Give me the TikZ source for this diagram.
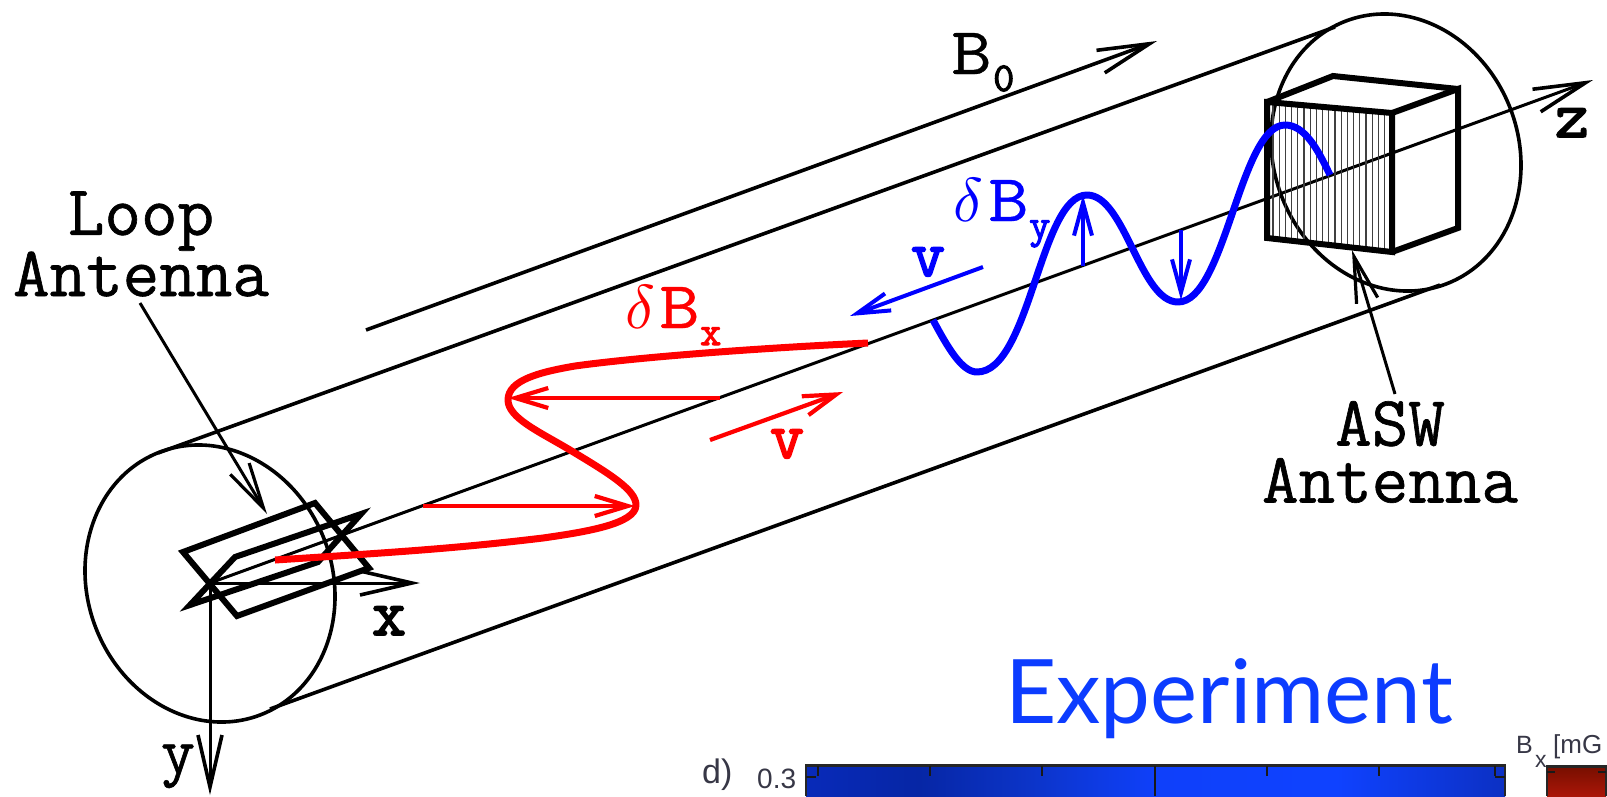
\documentclass[tikz,border=0pt]{standalone}
\usepackage{fontspec}
\usepackage{graphicx}
\setmainfont{Liberation Sans}
\newfontfamily\gillish{Lato}
\newfontfamily\slabl{Latin Modern Mono}[FakeBold=0.5]
\newfontfamily\slabm{Latin Modern Mono}[FakeBold=0.9]
\newfontfamily\slabb{Latin Modern Mono}[FakeBold=2.6]
\usetikzlibrary{arrows.meta}
\definecolor{wavered}{RGB}{255,0,0}
\definecolor{waveblue}{RGB}{0,0,255}
\definecolor{expblue}{RGB}{12,60,255}
\definecolor{pA}{RGB}{8,42,185}
\definecolor{pB}{RGB}{6,38,165}
\definecolor{pC}{RGB}{12,52,200}
\definecolor{pD}{RGB}{15,64,250}
\definecolor{pE}{RGB}{15,66,255}
\definecolor{pF}{RGB}{12,48,195}
\definecolor{barTop}{RGB}{120,15,0}
\definecolor{barBot}{RGB}{170,22,8}
\definecolor{plottext}{RGB}{55,55,70}
\pgfdeclarehorizontalshading{plotblue}{100bp}{color(0bp)=(pA); color(25bp)=(pA); color(33bp)=(pB); color(41bp)=(pC); color(50bp)=(pD); color(63bp)=(pE); color(75bp)=(pF); color(100bp)=(pF)}
\newcommand{\dlt}{\scalebox{6.2}{\fontsize{10}{10}\selectfont$\delta$}}
\newcommand{\wideB}{\scalebox{1.17}[1]{B}}
\tikzset{
  thinline/.style={line width=3.6pt,black},
  axisline/.style={line width=3pt,black},
  thickline/.style={line width=6pt,black,line join=miter},
  barbbig/.style={-{Straight Barb[length=52pt,width=24pt,line width=3.6pt]}},
  barbmid/.style={-{Straight Barb[length=46pt,width=22pt,line width=3.2pt]}},
  barbred/.style={-{Straight Barb[length=33pt,width=20pt,line width=4.2pt]},line width=4.2pt,wavered},
  barbblue/.style={-{Straight Barb[length=33pt,width=18pt,line width=4pt]},line width=4pt,waveblue},
  labeltext/.style={font=\slabm\fontsize{71}{57}\selectfont,inner sep=0pt,align=center},
  bigtext/.style={font=\slabl\fontsize{67}{57}\selectfont,inner sep=0pt,anchor=base west},
  subtext/.style={font=\slabb\fontsize{41}{41}\selectfont,inner sep=0pt,anchor=base west},
  axistext/.style={font=\slabb\fontsize{66}{66}\selectfont,inner sep=0pt,anchor=base},
  wavecurve/.style={line width=7pt,line join=round},
  plotfont/.style={inner sep=0pt,anchor=base west,text=plottext}
}
\begin{document}
\begin{tikzpicture}[x=1pt,y=-1pt]
\useasboundingbox (0,0) rectangle (1607,796);
% ---- coordinates
\coordinate (O) at (210,583);
\coordinate (Xtip) at (420,583);
\coordinate (Ytip) at (210,795);
\coordinate (Ztip) at (1593,80);
\coordinate (CylTopA) at (158,453);
\coordinate (CylTopB) at (1335,27);
\coordinate (CylBotA) at (270,709);
\coordinate (CylBotB) at (1440,285);
\coordinate (BzA) at (366,330);
\coordinate (BzB) at (1157,41);
% ---- circles
\draw[thinline,shift={(210,583.5)},rotate=21] (0,0) ellipse [x radius=122.5pt,y radius=140.7pt];
\draw[thinline,shift={(1396,152.5)},rotate=21] (0,0) ellipse [x radius=122.5pt,y radius=140.7pt];
\draw[thinline] (CylTopA) -- (CylTopB);
\draw[thinline] (CylBotA) -- (CylBotB);
\draw[thinline,barbbig] (BzA) -- (BzB);
\draw[axisline,barbbig] (O) -- (Ztip);
\draw[axisline,barbbig] (O) -- (Xtip);
\draw[axisline,barbbig] (O) -- (Ytip);
% ---- loop antenna
\draw[thickline] (183,552) -- (315,503) -- (369,568) -- (237,616) -- cycle;
\draw[thickline] (190,605) -- (235,557) -- (361,514) -- (318,562) -- cycle;
% ---- cube
\begin{scope}
\clip (1267,102) -- (1392,113) -- (1392,252) -- (1267,238) -- cycle;
\foreach \hx in {0,...,18} \draw[line width=1.2pt,black!75] ({1273+\hx*6.2},90) -- ({1273+\hx*6.2},260);
\end{scope}
\draw[thickline] (1267,102) -- (1392,113) -- (1392,252) -- (1267,238) -- cycle;
\draw[thickline] (1392,113) -- (1458,89) -- (1458,228) -- (1392,252);
\draw[thickline] (1267,102) -- (1333,76) -- (1458,89);
% ---- antenna pointers
\coordinate (LoopA) at (140,303);
\coordinate (LoopB) at (267,514);
\coordinate (AswA) at (1395,394);
\coordinate (AswB) at (1352,250);
\draw[axisline,barbmid] (LoopA) -- (LoopB);
\draw[axisline,barbmid] (AswA) -- (AswB);
% ---- red wave
\draw[wavecurve,wavered] (275,560) .. controls (400,552) and (460,548) .. (543,538)
  .. controls (585,532) and (636,524) .. (636,505)
  .. controls (636,490) and (610,474) .. (570,450)
  .. controls (540,432) and (508,418) .. (508,400)
  .. controls (508,380) and (540,372) .. (575,366)
  .. controls (640,357) and (760,348) .. (868,343);
\draw[barbred] (423,506) -- (635,506);
\draw[barbred] (720,398) -- (508,398);
\draw[barbred] (710,440) -- (843,392);
% ---- blue wave
\draw[wavecurve,waveblue] (933,320) .. controls (948,348) and (962,372) .. (977,372)
  .. controls (1030,372) and (1040,195) .. (1087,195)
  .. controls (1125,195) and (1140,302) .. (1178,302)
  .. controls (1225,302) and (1240,125) .. (1285,125)
  .. controls (1305,125) and (1318,150) .. (1330,175);
\draw[barbblue] (1083,266) -- (1083,195);
\draw[barbblue] (1181,230) -- (1181,300);
\draw[barbblue] (983,267) -- (850,316);
% ---- labels
\node[labeltext] (loop) at (141,244) {Loop\\Antenna};
\node[labeltext] (asw) at (1390,452) {ASW\\Antenna};
\node[bigtext] (bzero) at (951,74) {\wideB};
\node[subtext] (bsub) at (993,91) {0};
\node[axistext] (xl) at (389,635) {x};
\node[axistext,font=\slabm\fontsize{66}{66}\selectfont] (yl) at (178,773) {y};
\node[axistext] (zl) at (1572,137) {z};
\node[bigtext,text=wavered] (dbxd) at (625,328) {\dlt};
\node[bigtext,text=wavered] (dbxb) at (659,328) {\wideB};
\node[subtext,text=wavered] (xsub) at (700,345) {x};
\node[axistext,text=wavered] (vr) at (787,458) {v};
\node[bigtext,text=waveblue] (dbyd) at (953,221) {\dlt};
\node[bigtext,text=waveblue] (dbyb) at (988,221) {\wideB};
\node[subtext,text=waveblue] (ysub) at (1029,238) {y};
\node[axistext,text=waveblue] (vb) at (928,276) {v};
\node[inner sep=0pt,anchor=base west,text=expblue,font=\gillish\fontsize{89}{89}\selectfont] (exp) at (1005,723) {Experiment};
% ---- plot fragment
\shade[shading=plotblue] (806,766) rectangle (1505,796);
\draw[line width=2.4pt,black!85] (806,796) -- (806,765.5) -- (1505,765.5) -- (1505,796);
\draw[line width=2pt,black!90] (1155,766) -- (1155,796);
\foreach \tx in {818,930,1042,1267,1379,1495} \draw[line width=1.8pt,black!90] (\tx,766) -- (\tx,776);
\draw[line width=1.8pt,black!90] (806,777) -- (816,777);
\draw[line width=1.8pt,black!90] (1505,777) -- (1495,777);
\shade[top color=barTop,bottom color=barBot] (1547,767) rectangle (1606,796);
\draw[line width=2.4pt,black!85] (1547,796) -- (1547,766.5) -- (1606,766.5) -- (1606,796);
\draw[line width=1.6pt,black!90] (1547,772) -- (1555,772);
\draw[line width=1.6pt,black!90] (1606,772) -- (1598,772);
\node[plotfont,font=\fontsize{34}{34}\selectfont] (dl) at (702,783) {d)};
\node[plotfont,font=\fontsize{28}{28}\selectfont] (tl) at (757,788) {0.3};
\node[plotfont,font=\fontsize{25}{25}\selectfont] (bl) at (1516,753) {B};
\node[plotfont,font=\fontsize{23}{23}\selectfont] (blx) at (1535,767) {x};
\node[plotfont,font=\fontsize{26}{26}\selectfont] (blu) at (1553,753) {[mG};
\end{tikzpicture}
\end{document}
